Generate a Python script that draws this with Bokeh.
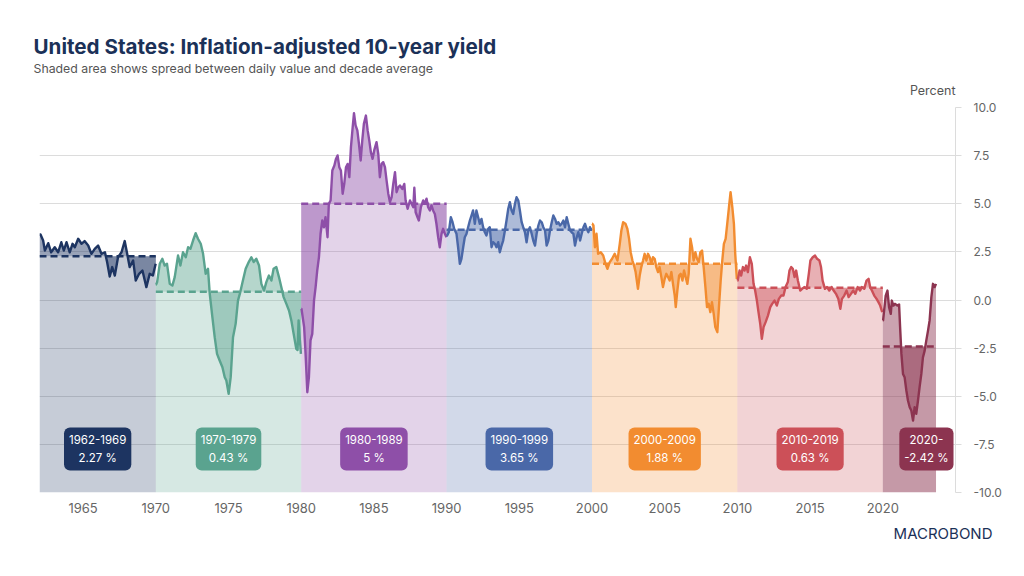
from bokeh.plotting import figure
from bokeh.models import Range1d, FixedTicker, Label, Title
from bokeh.embed import file_html
from bokeh.resources import INLINE

# ---------------- data ----------------
years_1960s = [1962.07, 1962.25, 1962.37, 1962.6, 1962.8, 1963.05, 1963.28, 1963.5, 1963.67, 1963.86,
               1964.08, 1964.27, 1964.43, 1964.66, 1964.89, 1965.1, 1965.35, 1965.57, 1965.8, 1966.03,
               1966.26, 1966.5, 1966.65, 1966.83, 1967.0, 1967.18, 1967.4, 1967.64, 1967.86, 1968.03,
               1968.2, 1968.44, 1968.62, 1968.85, 1969.08, 1969.35, 1969.58, 1969.8, 1969.99]
vals_1960s = [3.40, 3.09, 2.57, 2.95, 2.48, 2.74, 2.48, 3.00, 2.57, 3.00,
              2.48, 2.92, 2.74, 3.18, 2.92, 3.06, 2.83, 2.40, 2.66, 2.83,
              2.40, 2.48, 1.97, 1.22, 1.71, 1.27, 2.22, 2.48, 3.06, 2.40,
              1.71, 2.05, 1.01, 1.36, 1.53, 0.67, 1.36, 1.27, 1.88]

years_1970s = [1970.02, 1970.09, 1970.27, 1970.45, 1970.61, 1970.77, 1970.96, 1971.14, 1971.3, 1971.53,
               1971.69, 1971.87, 1972.06, 1972.22, 1972.38, 1972.56, 1972.74, 1972.9, 1973.09, 1973.25,
               1973.43, 1973.59, 1973.71, 1973.89, 1974.05, 1974.21, 1974.39, 1974.58, 1974.74, 1974.85,
               1975.01, 1975.15, 1975.31, 1975.49, 1975.65, 1975.81, 1975.99, 1976.18, 1976.39, 1976.57,
               1976.73, 1976.91, 1977.1, 1977.26, 1977.44, 1977.6, 1977.78, 1977.95, 1978.1, 1978.29,
               1978.47, 1978.63, 1978.79, 1978.98, 1979.16, 1979.32, 1979.48, 1979.66, 1979.75, 1979.82,
               1979.9, 1979.98]
vals_1970s = [0.80, 0.93, 1.88, 2.14, 1.79, 1.88, 0.84, 0.75, 1.19, 2.31,
              1.79, 2.48, 2.22, 2.74, 2.66, 3.09, 3.47, 3.18, 2.92, 2.40,
              1.36, 1.62, 0.32, -0.89, -1.93, -2.80, -3.14, -3.49, -4.01, -4.18,
              -4.87, -4.01, -1.93, -1.24, -0.03, 0.41, 1.01, 1.62, 1.97, 2.22,
              1.97, 2.14, 1.79, 0.84, 0.49, 0.93, 1.27, 1.01, 1.62, 1.71,
              1.19, 0.67, 0.15, -0.20, -0.55, -1.06, -1.76, -2.54, -2.60, -1.06,
              -2.00, -2.80]

years_1980s = [1980.02, 1980.2, 1980.3, 1980.42, 1980.53, 1980.64, 1980.76, 1980.88, 1980.99, 1981.1,
               1981.22, 1981.33, 1981.45, 1981.56, 1981.67, 1981.81, 1981.9, 1982.02, 1982.14, 1982.28,
               1982.39, 1982.5, 1982.62, 1982.73, 1982.85, 1982.96, 1983.08, 1983.19, 1983.31, 1983.42,
               1983.54, 1983.63, 1983.74, 1983.86, 1983.97, 1984.09, 1984.2, 1984.31, 1984.45, 1984.57,
               1984.68, 1984.79, 1984.91, 1985.02, 1985.18, 1985.3, 1985.41, 1985.53, 1985.64, 1985.76,
               1985.87, 1985.99, 1986.1, 1986.22, 1986.33, 1986.45, 1986.56, 1986.68, 1986.79, 1986.95,
               1987.09, 1987.18, 1987.32, 1987.48, 1987.59, 1987.71, 1987.78, 1987.87, 1988.0, 1988.09,
               1988.23, 1988.39, 1988.5, 1988.62, 1988.73, 1988.85, 1988.96, 1989.07, 1989.19, 1989.3,
               1989.42, 1989.53, 1989.65, 1989.76, 1989.88, 1989.99]
vals_1980s = [-0.46, -1.41, -2.80, -4.79, -4.01, -2.10, -1.76, -0.03, 0.67, 1.53,
              2.23, 3.44, 4.13, 3.78, 4.30, 3.26, 5.00, 5.17, 6.73, 6.99,
              7.33, 7.51, 6.90, 6.73, 5.52, 6.03, 6.90, 7.07, 6.38, 7.94,
              8.98, 9.71, 9.07, 8.81, 8.12, 7.25, 8.29, 9.15, 9.58, 8.81,
              8.29, 7.68, 7.33, 7.77, 8.20, 7.59, 6.38, 7.07, 7.16, 6.90,
              6.21, 5.52, 5.09, 5.34, 6.03, 6.64, 5.60, 5.86, 5.95, 5.77,
              6.03, 5.17, 4.74, 5.17, 5.00, 4.82, 5.83, 4.56, 4.30, 4.13,
              4.82, 5.17, 5.00, 5.26, 4.82, 4.65, 4.91, 4.65, 4.47, 3.96,
              3.26, 2.74, 3.44, 3.70, 3.44, 3.26]

years_1990s = [1990.04, 1990.15, 1990.29, 1990.41, 1990.52, 1990.68, 1990.79, 1990.91, 1991.02, 1991.14,
               1991.25, 1991.37, 1991.48, 1991.6, 1991.71, 1991.82, 1991.94, 1992.05, 1992.17, 1992.28,
               1992.4, 1992.51, 1992.63, 1992.74, 1992.86, 1992.97, 1993.09, 1993.2, 1993.32, 1993.43,
               1993.55, 1993.66, 1993.78, 1993.89, 1994.01, 1994.12, 1994.24, 1994.35, 1994.47, 1994.58,
               1994.7, 1994.81, 1994.93, 1995.04, 1995.16, 1995.27, 1995.39, 1995.5, 1995.62, 1995.73,
               1995.85, 1995.96, 1996.08, 1996.19, 1996.31, 1996.42, 1996.54, 1996.65, 1996.77, 1996.88,
               1997.0, 1997.11, 1997.23, 1997.34, 1997.46, 1997.57, 1997.69, 1997.8, 1997.91, 1998.03,
               1998.14, 1998.26, 1998.37, 1998.49, 1998.6, 1998.72, 1998.83, 1998.95, 1999.06, 1999.18,
               1999.29, 1999.41, 1999.52, 1999.63, 1999.75, 1999.86, 1999.98]
vals_1990s = [3.35, 3.52, 4.30, 4.04, 3.70, 3.44, 2.74, 1.88, 2.14, 2.74,
              3.26, 3.44, 3.78, 4.13, 4.39, 4.65, 3.96, 4.65, 4.30, 3.96,
              4.21, 3.78, 3.52, 3.35, 3.70, 3.78, 2.74, 3.00, 2.92, 2.74,
              3.00, 2.48, 2.83, 3.09, 3.61, 4.13, 4.74, 5.08, 4.65, 4.47,
              5.00, 5.34, 5.17, 4.65, 4.04, 3.78, 3.52, 3.00, 3.61, 3.78,
              3.44, 3.09, 2.83, 3.44, 3.87, 4.13, 4.04, 3.78, 3.61, 2.83,
              3.09, 3.61, 4.04, 4.39, 4.21, 3.96, 4.04, 3.87, 3.96, 4.13,
              3.78, 4.30, 3.96, 3.61, 3.52, 3.44, 2.83, 3.26, 3.52, 3.09,
              3.44, 3.78, 3.96, 3.70, 3.52, 3.78, 3.61]

years_2000s = [2000.02, 2000.1, 2000.2, 2000.31, 2000.42, 2000.6, 2000.77, 2000.93, 2001.06, 2001.22,
               2001.38, 2001.56, 2001.75, 2001.91, 2002.02, 2002.14, 2002.3, 2002.43, 2002.55, 2002.66,
               2002.78, 2002.89, 2003.0, 2003.16, 2003.28, 2003.39, 2003.51, 2003.62, 2003.74, 2003.85,
               2003.97, 2004.08, 2004.19, 2004.31, 2004.42, 2004.54, 2004.65, 2004.77, 2004.88, 2005.0,
               2005.11, 2005.23, 2005.34, 2005.46, 2005.57, 2005.69, 2005.76, 2005.87, 2005.99, 2006.1,
               2006.22, 2006.33, 2006.44, 2006.56, 2006.65, 2006.77, 2006.88, 2006.99, 2007.11, 2007.22,
               2007.34, 2007.45, 2007.57, 2007.68, 2007.8, 2007.91, 2008.02, 2008.14, 2008.25, 2008.37,
               2008.48, 2008.62, 2008.73, 2008.85, 2008.96, 2009.07, 2009.19, 2009.3, 2009.42, 2009.53,
               2009.65, 2009.76, 2009.85, 2009.96]
vals_2000s = [3.96, 3.87, 2.74, 3.44, 2.40, 2.48, 2.31, 1.88, 1.62, 1.97,
              2.14, 2.40, 2.05, 2.92, 3.61, 4.04, 3.96, 3.70, 3.18, 2.48,
              2.05, 1.79, 1.45, 0.58, 1.27, 1.71, 2.05, 2.40, 2.05, 2.40,
              2.22, 1.88, 2.22, 2.14, 1.71, 1.45, 1.71, 1.19, 0.67, 1.10,
              1.36, 1.19, 1.01, 1.45, 0.84, 0.23, -0.37, 0.49, 1.27, 1.36,
              1.01, 1.53, 1.19, 0.84, 1.36, 3.18, 2.74, 2.05, 2.48, 2.14,
              1.97, 2.48, 2.57, 1.71, 0.67, -0.37, -0.20, -0.63, -0.11, -0.72,
              -1.41, -1.67, -0.37, 1.01, 2.05, 2.92, 3.18, 3.96, 4.82, 5.60,
              4.82, 3.96, 2.40, 1.10]

years_2010s = [2010.02, 2010.15, 2010.26, 2010.38, 2010.49, 2010.6, 2010.72, 2010.86, 2010.99, 2011.11,
               2011.22, 2011.34, 2011.45, 2011.57, 2011.68, 2011.8, 2011.94, 2012.1, 2012.26, 2012.39,
               2012.55, 2012.71, 2012.85, 2013.01, 2013.17, 2013.31, 2013.47, 2013.58, 2013.7, 2013.81,
               2013.93, 2014.04, 2014.16, 2014.32, 2014.45, 2014.61, 2014.77, 2014.91, 2015.02, 2015.18,
               2015.34, 2015.48, 2015.64, 2015.75, 2015.86, 2016.02, 2016.16, 2016.32, 2016.48, 2016.62,
               2016.78, 2016.94, 2017.08, 2017.19, 2017.35, 2017.51, 2017.65, 2017.81, 2017.97, 2018.11,
               2018.27, 2018.43, 2018.56, 2018.72, 2018.88, 2019.02, 2019.13, 2019.25, 2019.41, 2019.57,
               2019.7, 2019.82, 2019.96]
vals_2010s = [1.01, 1.53, 1.27, 1.71, 1.53, 1.79, 1.45, 2.22, 1.88, 0.84,
              0.49, -0.03, -0.63, -1.24, -2.02, -1.41, -1.15, -0.81, -0.37, -0.20,
              -0.03, -0.29, 0.06, 0.23, 0.23, 0.67, 0.93, 1.53, 1.71, 1.62,
              1.19, 1.53, 1.01, 0.49, 0.58, 0.67, 0.58, 1.36, 2.05, 2.22,
              2.31, 2.14, 2.05, 1.71, 1.01, 0.58, 0.67, 0.49, 0.67, 0.49,
              0.32, 0.06, -0.46, 0.06, 0.23, 0.49, 0.15, 0.32, 0.49, 0.32,
              0.67, 0.49, 0.67, 0.58, 1.01, 1.10, 0.67, 0.49, 0.23, 0.06,
              -0.11, -0.29, -0.63]

years_2020s = [2020.02, 2020.09, 2020.2, 2020.32, 2020.43, 2020.55, 2020.62, 2020.73, 2020.84, 2021.0,
               2021.12, 2021.19, 2021.28, 2021.39, 2021.5, 2021.62, 2021.73, 2021.85, 2021.96, 2022.08,
               2022.19, 2022.3, 2022.42, 2022.53, 2022.65, 2022.76, 2022.88, 2022.99, 2023.11, 2023.22,
               2023.34, 2023.45, 2023.57, 2023.66]
vals_2020s = [-1.06, -0.55, 0.23, 0.49, -0.37, -0.72, -0.03, -0.29, -0.20, -0.29,
              -0.23, -1.41, -2.80, -3.84, -4.01, -4.70, -5.22, -5.57, -5.74, -6.26,
              -5.57, -5.91, -5.22, -4.53, -3.84, -2.98, -2.63, -2.11, -1.59, -1.06,
              0.15, 0.84, 0.67, 0.84]

decade_names = ["1962-1969", "1970-1979", "1980-1989", "1990-1999", "2000-2009", "2010-2019", "2020-"]
decade_start = [1962, 1970, 1980, 1990, 2000, 2010, 2020]
decade_avg = [2.27, 0.43, 5, 3.65, 1.88, 0.63, -2.42]

x_ticks = [1965, 1970, 1975, 1980, 1985, 1990, 1995, 2000, 2005, 2010, 2015, 2020]
y_ticks = [-10.0, -7.5, -5.0, -2.5, 0.0, 2.5, 5.0, 7.5, 10.0]
y_tick_labels = ["-10.0", "-7.5", "-5.0", "-2.5", "0.0", "2.5", "5.0", "7.5", "10.0"]

title_text = "United States: Inflation-adjusted 10-year yield"
subtitle_text = "Shaded area shows spread between daily value and decade average"
unit_text = "Percent"
brand_text = "MACROBOND"

# ---------------- style ----------------
colors = ["#1d3461", "#5aa38f", "#8e4fa8", "#4a68a8", "#f28c30", "#cc5058", "#8c3450"]
band_alpha = [0.25, 0.25, 0.25, 0.25, 0.25, 0.25, 0.5]
FONT = "Inter"
NAVY = "#1b3158"
GREY = "#666666"

series_x = [years_1960s, years_1970s, years_1980s, years_1990s, years_2000s, years_2010s, years_2020s]
series_y = [vals_1960s, vals_1970s, vals_1980s, vals_1990s, vals_2000s, vals_2010s, vals_2020s]

p = figure(width=1008, height=560, output_backend="svg", toolbar_location=None,
           x_range=Range1d(1962, 2025), y_range=Range1d(-10, 10),
           y_axis_location="right", title=None,
           min_border_left=39, min_border_right=53, min_border_top=107, min_border_bottom=68)
p.outline_line_color = None
p.background_fill_color = "white"
p.border_fill_color = "white"
p.xgrid.visible = False
p.ygrid.grid_line_color = "#dcdcdc"
p.ygrid.grid_line_width = 1

# bands, spread areas, lines
for i in range(len(decade_start)):
    xs = series_x[i]
    ys = series_y[i]
    avg = decade_avg[i]
    start = decade_start[i]
    end = decade_start[i + 1] if i + 1 < len(decade_start) else xs[-1]
    p.quad(left=[start], right=[end], bottom=[-10], top=[avg],
           fill_color=colors[i], fill_alpha=band_alpha[i], line_color=None)
    p.varea(x=[start] + xs + [end], y1=[ys[0]] + ys + [ys[-1]], y2=[avg] * (len(xs) + 2),
            fill_color=colors[i], fill_alpha=0.45)
    p.line(x=[start] + xs, y=[ys[0]] + ys, line_color=colors[i], line_width=2.4, line_join="round")
    p.line(x=[start, end], y=[avg, avg], line_color=colors[i], line_width=2.5, line_dash="7 4")

# decade boxes
label_x = [1966, 1975, 1985, 1995, 2005, 2015, 2023]
for i in range(len(decade_start)):
    p.add_layout(Label(x=label_x[i], y=-7.74, text=f"{decade_names[i]}\n{decade_avg[i]:g} %",
                       text_align="center", text_baseline="middle",
                       text_color="white", text_font=FONT, text_font_size="11.5px",
                       text_line_height=1.35,
                       background_fill_color=colors[i], background_fill_alpha=1.0,
                       padding=5, border_radius=6))

# axes
xa = p.xaxis[0]
xa.ticker = FixedTicker(ticks=x_ticks)
xa.axis_line_color = None
xa.major_tick_line_color = None
xa.minor_tick_line_color = None
xa.major_tick_out = 0
xa.major_label_standoff = 10
xa.major_label_text_font = FONT
xa.major_label_text_font_size = "13px"
xa.major_label_text_color = GREY

ya = p.yaxis[0]
ya.ticker = FixedTicker(ticks=y_ticks)
ya.major_label_overrides = {t: s for t, s in zip(y_ticks, y_tick_labels)}
ya.axis_line_color = "#dcdcdc"
ya.major_tick_line_color = "#dcdcdc"
ya.major_tick_out = 6
ya.major_tick_in = 0
ya.minor_tick_line_color = None
ya.major_label_text_font = FONT
ya.major_label_text_font_size = "12px"
ya.major_label_text_color = GREY
ya.major_label_text_align = "right"
ya.major_label_standoff = 12

# titles (stacked outward from the frame) and brand line
p.add_layout(Title(text=unit_text, align="right", offset=0, standoff=20,
                   text_font=FONT, text_font_style="normal", text_font_size="12.5px",
                   text_color="#555555"), "above")
p.add_layout(Title(text=subtitle_text, align="left", offset=-6, standoff=-10,
                   text_font=FONT, text_font_style="normal", text_font_size="12.3px",
                   text_color="#555555"), "above")
p.add_layout(Title(text=title_text, align="left", offset=-6, standoff=9,
                   text_font=FONT, text_font_style="bold", text_font_size="20.6px",
                   text_color=NAVY), "above")
p.add_layout(Title(text=brand_text, align="right", offset=-37, standoff=13,
                   text_font=FONT, text_font_style="normal", text_font_size="15px",
                   text_color=NAVY), "below")

open("out.html", "w").write(file_html(p, INLINE))
